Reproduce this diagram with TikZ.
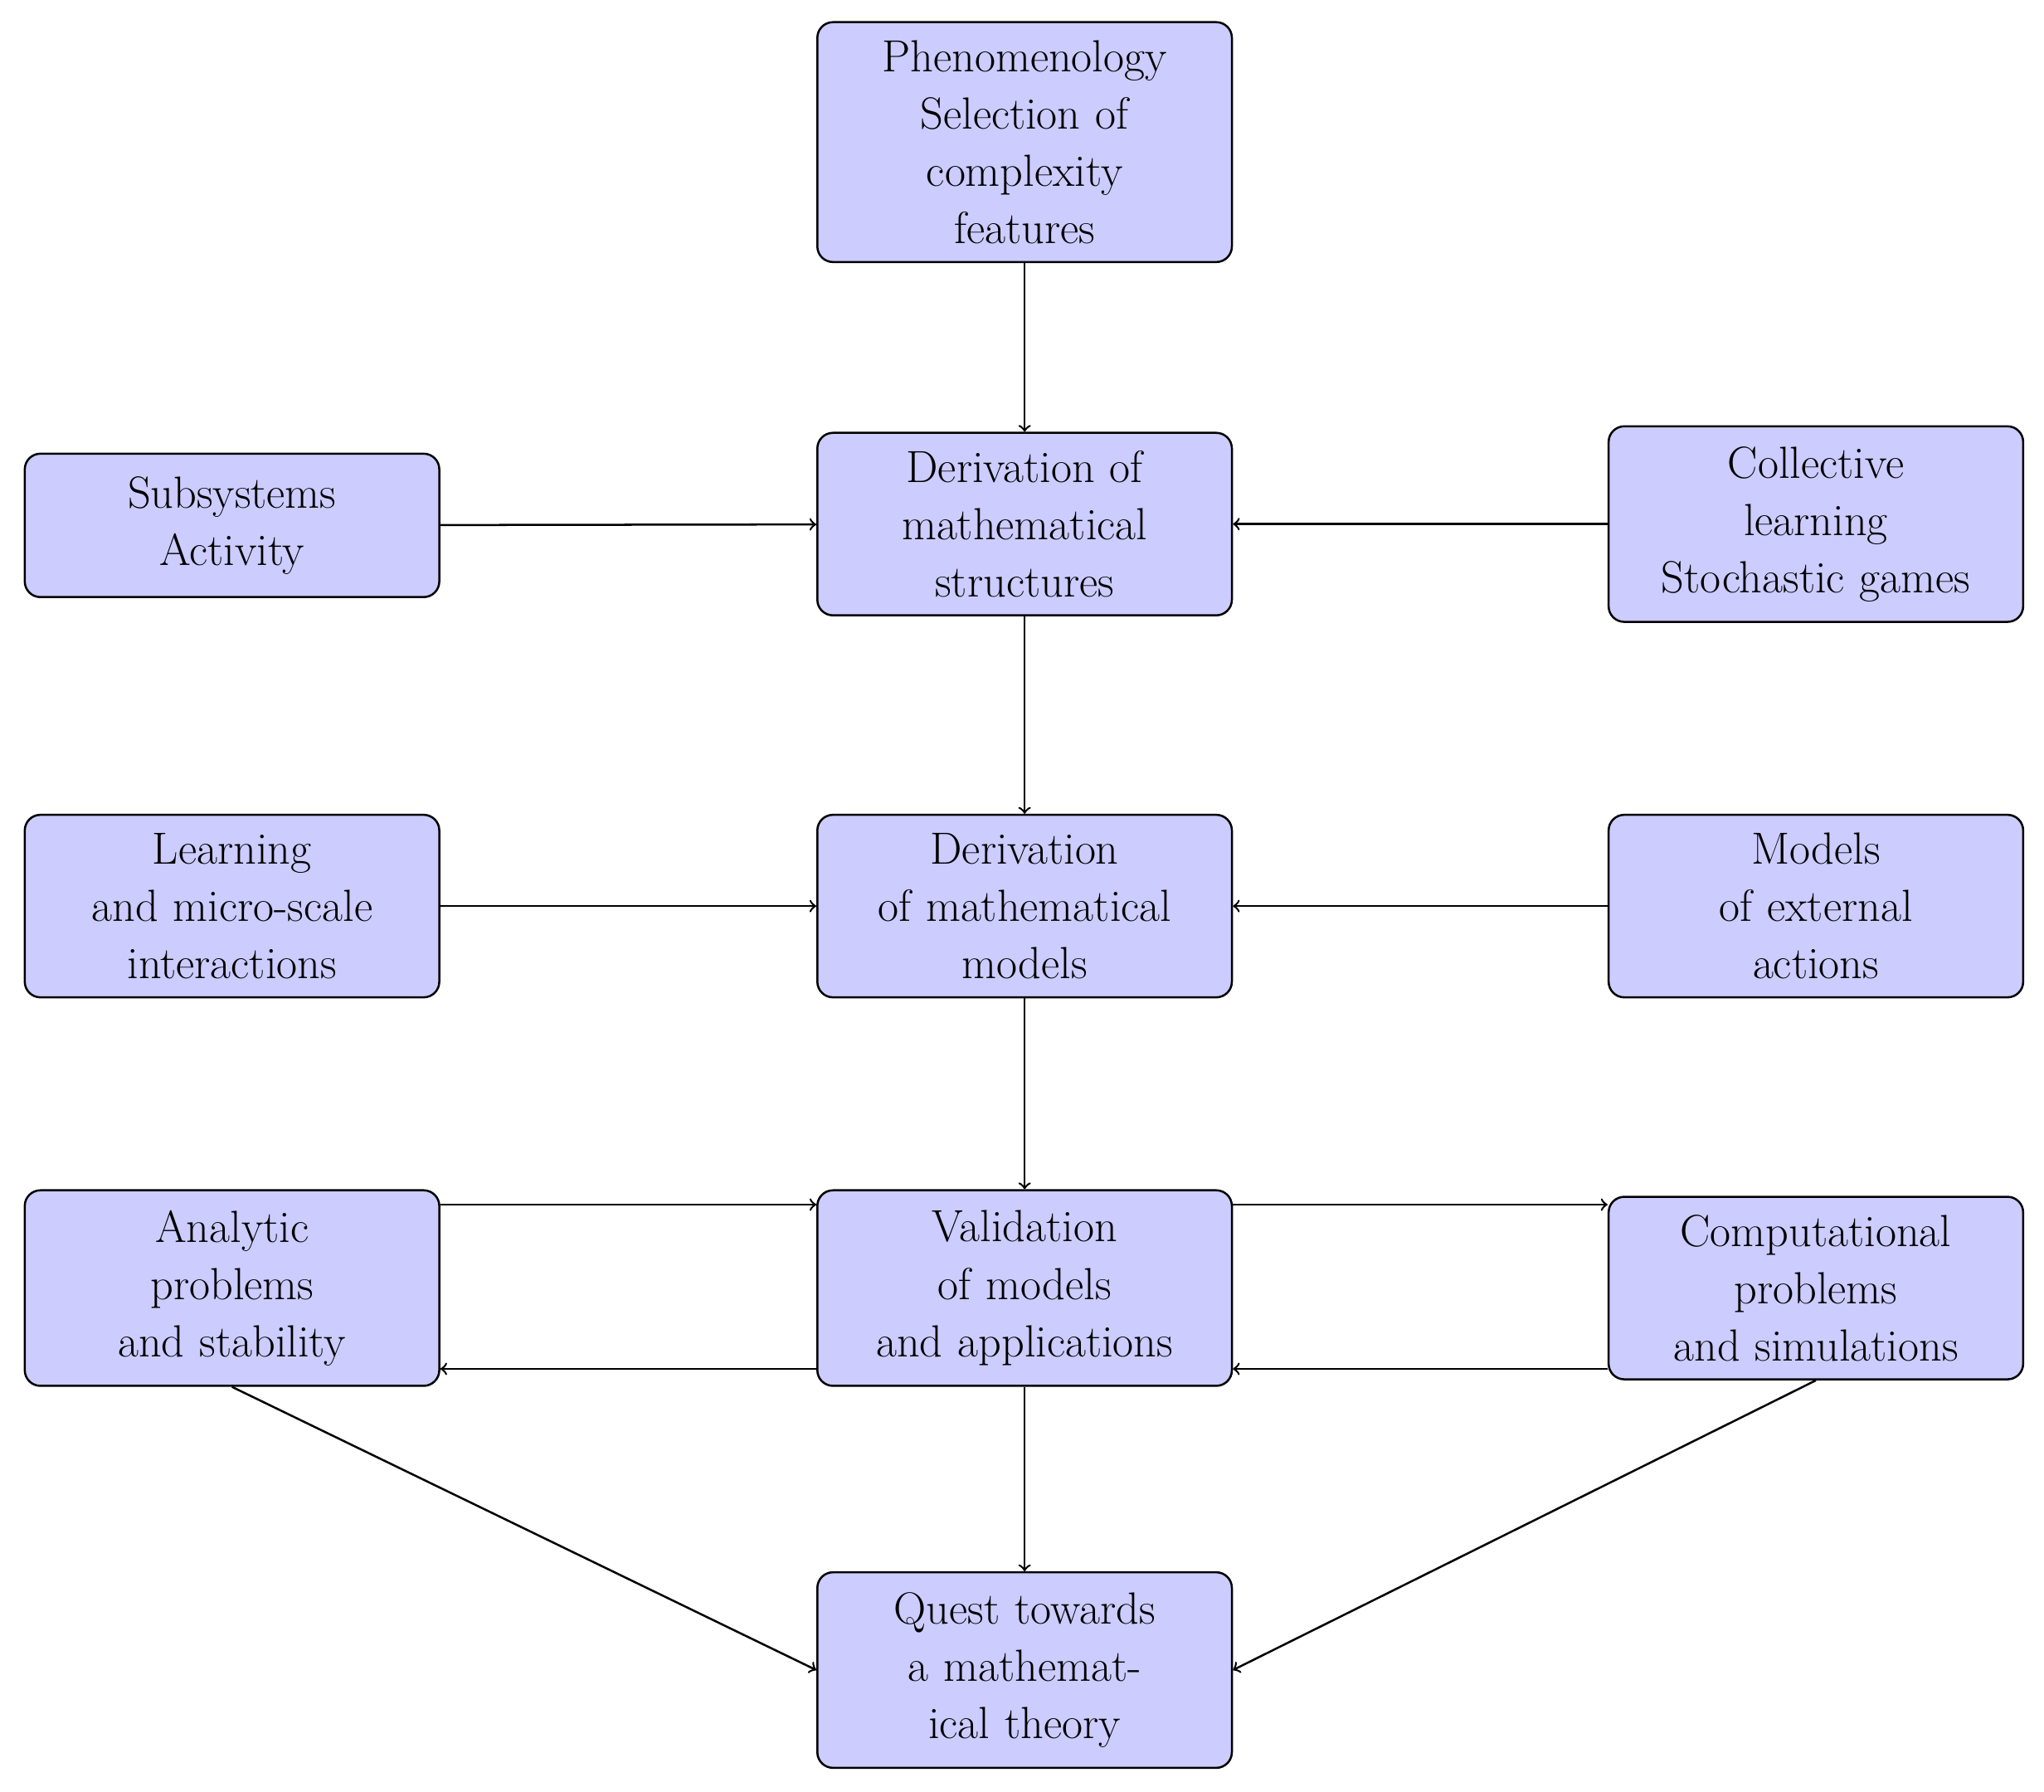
\documentclass[tikz,border=0pt]{standalone}
\usepackage{mathpazo}
\begin{document}
\begin{tikzpicture}[x=0.5pt,y=-0.5pt,
  box/.style={draw,thick,fill=blue!20,rounded corners=6pt,align=center,
    text width=142pt,minimum width=159pt,inner sep=2pt,font=\LARGE},
  arr/.style={->,thick}]
\useasboundingbox (0,0) rectangle (1568,1374);
\node[box,minimum height=92pt] (phen) at (786,109) {Phenomenology\\Selection of\\complexity\\features};
\node[box,minimum height=70pt] (ders) at (786,402) {Derivation of\\mathematical\\structures};
\node[box,minimum height=55pt] (subs) at (178,403) {Subsystems\\Activity};
\node[box,minimum height=75pt] (coll) at (1393,402) {Collective\\learning\\Stochastic games};
\node[box,minimum height=70pt] (derm) at (786,695) {Derivation\\of mathematical\\models};
\node[box,minimum height=70pt] (learn) at (178,695) {Learning\\and micro-scale\\interactions};
\node[box,minimum height=70pt] (ext) at (1393,695) {Models\\of external\\actions};
\node[box,minimum height=75pt] (val) at (786,988) {Validation\\of models\\and applications};
\node[box,minimum height=75pt] (anal) at (178,988) {Analytic\\problems\\and stability};
\node[box,minimum height=70pt] (comp) at (1393,988) {Computational\\problems\\and simulations};
\node[box,minimum height=75pt] (quest) at (786,1281) {Quest towards\\a mathemat-\\ical theory};
\draw[arr] (phen) -- (ders);
\draw[arr] (subs) -- (ders);
\draw[arr] (coll) -- (ders);
\draw[arr] (ders) -- (derm);
\draw[arr] (learn) -- (derm);
\draw[arr] (ext) -- (derm);
\draw[arr] (derm) -- (val);
\draw[arr] ([yshift=-31]val.west) -- ([yshift=-31]anal.east);
\draw[arr] ([yshift=32]anal.east) -- ([yshift=32]val.west);
\draw[arr] ([yshift=-31]comp.west) -- ([yshift=-31]val.west -| val.east);
\draw[arr] ([yshift=32]val.east) -- ([yshift=32]val.east -| comp.west);
\draw[arr] (val) -- (quest);
\draw[arr] (anal.south) -- (quest.west);
\draw[arr] (comp.south) -- (quest.east);
\end{tikzpicture}
\end{document}
